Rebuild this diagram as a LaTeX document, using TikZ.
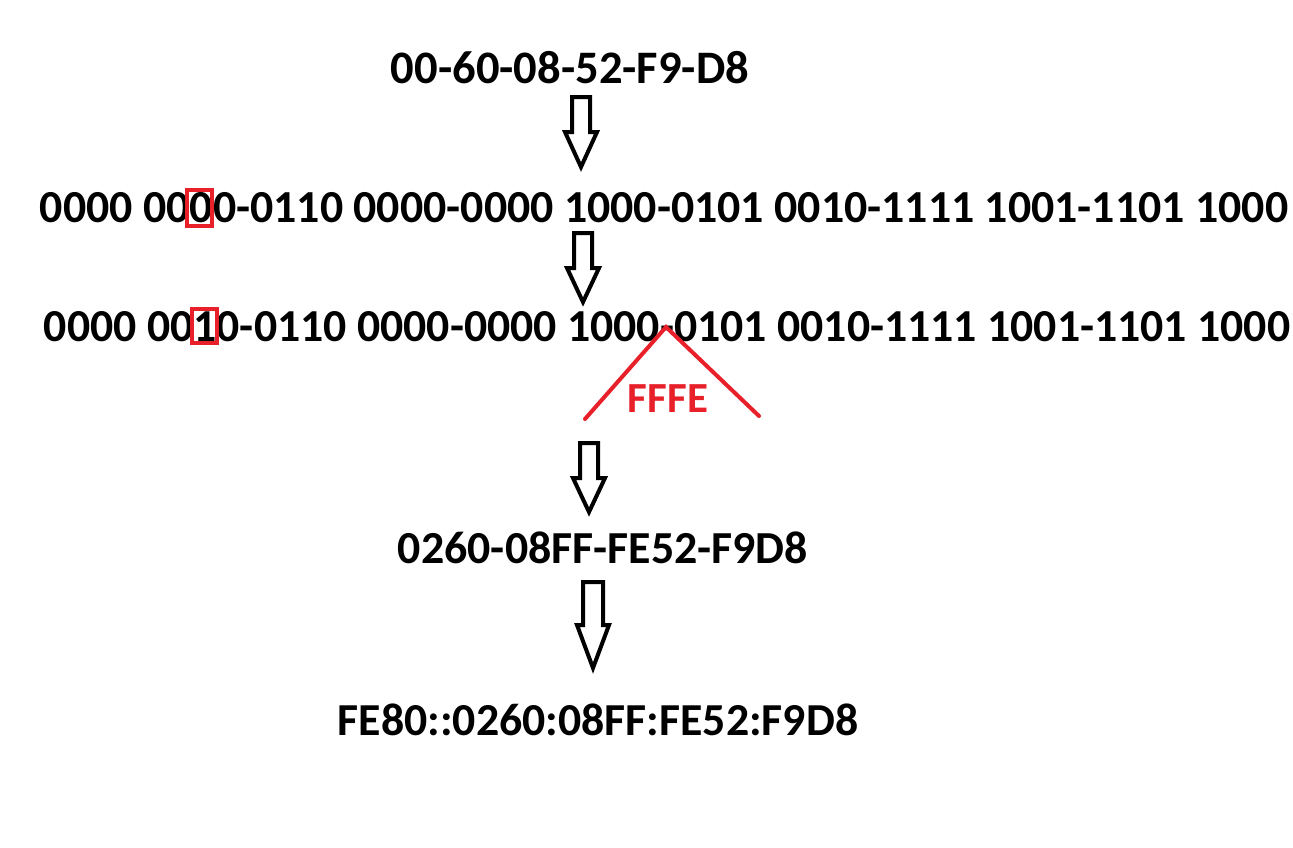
\documentclass[tikz,border=0pt]{standalone}
\usepackage{fontspec}
\setmainfont{Carlito}
\usepackage{graphicx}
\definecolor{mred}{RGB}{232,32,42}
\newcommand{\fitw}[2]{\resizebox{#1pt}{!}{\bfseries #2}}
\newcommand{\hollowarrow}[7]{% cx, shaft half, head half, top, base, tip, name
  \draw[blockarrow] (#1-#2,#4) -- (#1+#2,#4) -- (#1+#2,#5) -- (#1+#3,#5) -- (#1,#6) -- (#1-#3,#5) -- (#1-#2,#5) -- cycle;}
\begin{document}
\begin{tikzpicture}[x=1pt,y=-1pt,
  txt/.style={inner sep=0pt,anchor=center,text=black},
  redtxt/.style={inner sep=0pt,anchor=center,text=mred},
  blockarrow/.style={draw=black,line width=4pt,line join=miter},
  redbox/.style={draw=mred,line width=3.5pt},
  redline/.style={draw=mred,line width=4pt,line cap=round}]
\useasboundingbox (0,0) rectangle (1293,847);
\node[txt] (mac) at (570,68) {\fitw{358}{00-60-08-52-F9-D8}};
\hollowarrow{581}{9}{16}{97}{132}{167}{a1}
\node[txt] (bin1) at (664,208) {\fitw{1248}{0000 0000-0110 0000-0000 1000-0101 0010-1111 1001-1101 1000}};
\draw[redbox] (187,190) rectangle (212,226);
\hollowarrow{583}{9}{16}{233}{268}{302}{a2}
\node[txt] (bin2) at (667,327) {\fitw{1246}{0000 0010-0110 0000-0000 1000-0101 0010-1111 1001-1101 1000}};
\draw[redbox] (192,309) rectangle (217,343);
\draw[redline] (585,419) -- (666,327) -- (759,416);
\node[redtxt] (fffe) at (668,399) {\fitw{80}{FFFE}};
\hollowarrow{589}{9}{16}{443}{478}{512}{a3}
\node[txt] (eui) at (603,548) {\fitw{410}{0260-08FF-FE52-F9D8}};
\hollowarrow{593}{10}{16}{582}{625}{668}{a4}
\node[txt] (ll) at (598,720) {\fitw{520}{FE80::0260:08FF:FE52:F9D8}};
\end{tikzpicture}
\end{document}
